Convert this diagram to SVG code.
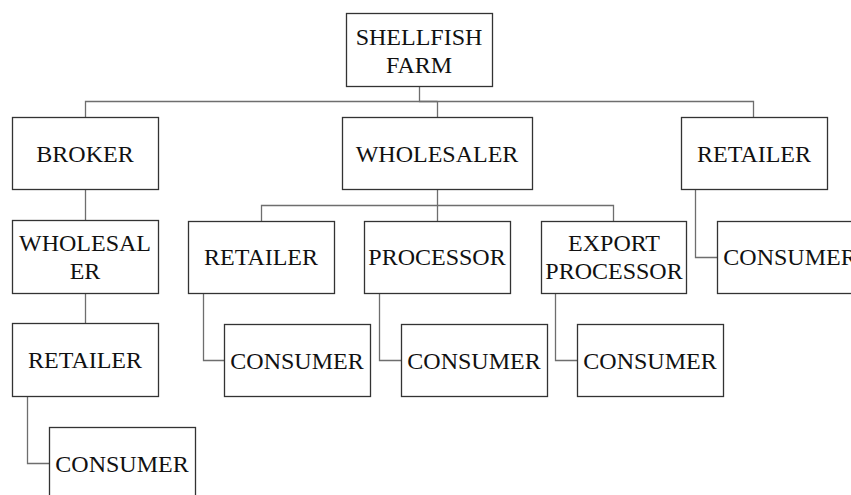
<svg xmlns="http://www.w3.org/2000/svg" width="851" height="495" viewBox="0 0 851 495">
<style>
rect.box{fill:#fff;stroke:#333;stroke-width:1.3}
text{font-family:"Liberation Serif","Times New Roman",serif;font-size:24px;fill:#111;text-anchor:middle}
.conn path{fill:none;stroke:#6e6e6e;stroke-width:1.3}
</style>
<rect width="851" height="495" fill="#fff"/>
<g class="conn" id="connectors">
<path d="M419.5,86 V101.5 H437.5"/>
<path d="M85.5,117 V101.5 H753.5 V117"/>
<path d="M437.5,101.5 V117"/>
<path d="M85.5,189 V220"/>
<path d="M85.5,293 V323"/>
<path d="M27.5,396 V463.5 H49"/>
<path d="M437.5,189 V205.5"/>
<path d="M261.5,221 V205.5 H613.5 V221"/>
<path d="M437.5,205.5 V221"/>
<path d="M203.5,293 V360.5 H224"/>
<path d="M379.5,293 V360.5 H401"/>
<path d="M555.5,293 V360.5 H577"/>
<path d="M695.5,189 V257.5 H717"/>
</g>
<g id="farm"><rect class="box" x="346.5" y="13.5" width="146" height="73"/><text x="419" y="45">SHELLFISH</text><text x="419" y="73">FARM</text></g>
<g id="broker"><rect class="box" x="12.5" y="117.5" width="146" height="72"/><text x="85" y="162">BROKER</text></g>
<g id="wholesaler"><rect class="box" x="342.5" y="117.5" width="190" height="72"/><text x="437" y="162">WHOLESALER</text></g>
<g id="retailer-right"><rect class="box" x="681.5" y="117.5" width="146" height="72"/><text x="754" y="162">RETAILER</text></g>
<g id="wholesaler-left"><rect class="box" x="12.5" y="220.5" width="146" height="73"/><text x="85" y="251">WHOLESAL</text><text x="85" y="279">ER</text></g>
<g id="retailer-mid"><rect class="box" x="188.5" y="221.5" width="146" height="72"/><text x="261" y="265">RETAILER</text></g>
<g id="processor"><rect class="box" x="364.5" y="221.5" width="146" height="72"/><text x="437" y="265">PROCESSOR</text></g>
<g id="export-processor"><rect class="box" x="541.5" y="221.5" width="145" height="72"/><text x="614" y="251">EXPORT</text><text x="614" y="279">PROCESSOR</text></g>
<g id="consumer-right"><rect class="box" x="717.5" y="221.5" width="146" height="72"/><text x="790" y="265">CONSUMER</text></g>
<g id="retailer-left"><rect class="box" x="12.5" y="323.5" width="146" height="73"/><text x="85" y="368">RETAILER</text></g>
<g id="consumer-1"><rect class="box" x="224.5" y="324.5" width="146" height="72"/><text x="297" y="369">CONSUMER</text></g>
<g id="consumer-2"><rect class="box" x="401.5" y="324.5" width="146" height="72"/><text x="474" y="369">CONSUMER</text></g>
<g id="consumer-3"><rect class="box" x="577.5" y="324.5" width="146" height="72"/><text x="650" y="369">CONSUMER</text></g>
<g id="consumer-left"><rect class="box" x="49.5" y="427.5" width="146" height="72"/><text x="122" y="472">CONSUMER</text></g>
</svg>
